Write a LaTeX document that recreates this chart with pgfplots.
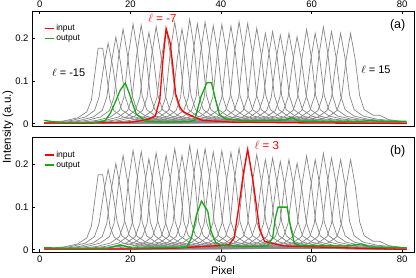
\documentclass[border=0pt]{standalone}
\usepackage{fontspec}
\setmainfont{Liberation Sans}
\usepackage{pgfplots}
\pgfplotsset{compat=1.18}
\definecolor{myred}{RGB}{255,0,0}
\definecolor{mygreen}{RGB}{20,170,20}
\definecolor{mygray}{RGB}{135,135,135}

\pgfplotsset{
 gry/.style={mygray, line width=0.7pt, forget plot},
 panel/.style={
  scale only axis, width=382pt, height=115pt,
  xmin=-1.7, xmax=82.6, ymin=-0.005, ymax=0.263,
  xtick={0,20,40,60,80}, ytick={0,0.1,0.2},
  tick align=inside, major tick length=3pt,
  ytick pos=left,
  axis line style={line width=0.9pt},
  every tick/.style={black, line width=0.8pt},
  tick label style={font=\fontsize{9.5}{11}\selectfont},
  /pgf/number format/assume math mode=true,
  legend style={draw=none, fill=none, at={(0.028,0.91)}, anchor=north west,
    font=\fontsize{8.5}{10}\selectfont, row sep=-1pt, inner sep=1pt},
  legend cell align=left,
 },
}

\newcommand{\greycurves}{%
\addplot[gry] coordinates {(1,0.002)(5.4,0.007)(8.4,0.014)(10.4,0.028)(11.4,0.055)(12.2,0.12)(12.9,0.176)(13.9,0.176)(14.7,0.12)(15.5,0.055)(16.4,0.03)(18.4,0.016)(21.4,0.01)(27.4,0.005)(81,0.002)};
\addplot[gry] coordinates {(1,0.002)(3.1,0.003)(7.1,0.008)(10.1,0.016)(12.1,0.031)(13.1,0.062)(14.1,0.132)(15.1,0.188)(16.1,0.135)(17.1,0.066)(18.1,0.033)(20.1,0.018)(23.1,0.011)(29.1,0.005)(81,0.002)};
\addplot[gry] coordinates {(1,0.002)(4.8,0.003)(8.8,0.008)(11.8,0.016)(13.8,0.031)(14.8,0.062)(15.8,0.141)(16.8,0.202)(17.8,0.145)(18.8,0.066)(19.8,0.033)(21.8,0.018)(24.8,0.011)(30.8,0.005)(81,0.002)};
\addplot[gry] coordinates {(1,0.002)(6.4,0.003)(10.4,0.008)(13.4,0.016)(15.4,0.031)(16.4,0.062)(17.4,0.155)(18.4,0.221)(19.4,0.159)(20.4,0.066)(21.4,0.033)(23.4,0.018)(26.4,0.011)(32.4,0.005)(81,0.002)};
\addplot[gry] coordinates {(1,0.002)(8.6,0.003)(12.6,0.008)(15.6,0.016)(17.6,0.031)(18.6,0.062)(19.6,0.163)(20.6,0.233)(21.6,0.168)(22.6,0.066)(23.6,0.033)(25.6,0.018)(28.6,0.011)(34.6,0.005)(81,0.002)};
\addplot[gry] coordinates {(1,0.002)(10.4,0.003)(14.4,0.008)(17.4,0.016)(19.4,0.031)(20.4,0.062)(21.4,0.161)(22.4,0.230)(23.4,0.166)(24.4,0.066)(25.4,0.033)(27.4,0.018)(30.4,0.011)(36.4,0.005)(81,0.002)};
\addplot[gry] coordinates {(1,0.002)(12.1,0.003)(16.1,0.008)(19.1,0.016)(21.1,0.031)(22.1,0.062)(23.1,0.149)(24.1,0.213)(25.1,0.153)(26.1,0.066)(27.1,0.033)(29.1,0.018)(32.1,0.011)(38.1,0.005)(81,0.002)};
\addplot[gry] coordinates {(1,0.002)(13.7,0.003)(17.7,0.008)(20.7,0.016)(22.7,0.031)(23.7,0.062)(24.7,0.159)(25.7,0.227)(26.7,0.163)(27.7,0.066)(28.7,0.033)(30.7,0.018)(33.7,0.011)(39.7,0.005)(81,0.002)};
\addplot[gry] coordinates {(1,0.002)(15.9,0.003)(19.9,0.008)(22.9,0.016)(24.9,0.031)(25.9,0.062)(26.9,0.155)(27.9,0.221)(28.9,0.159)(29.9,0.066)(30.9,0.033)(32.9,0.018)(35.9,0.011)(41.9,0.005)(81,0.002)};
\addplot[gry] coordinates {(1,0.002)(17.8,0.003)(21.8,0.008)(24.8,0.016)(26.8,0.031)(27.8,0.062)(28.8,0.166)(29.8,0.237)(30.8,0.171)(31.8,0.066)(32.8,0.033)(34.8,0.018)(37.8,0.011)(43.8,0.005)(81,0.002)};
\addplot[gry] coordinates {(1,0.002)(19.4,0.003)(23.4,0.008)(26.4,0.016)(28.4,0.031)(29.4,0.062)(30.4,0.155)(31.4,0.221)(32.4,0.159)(33.4,0.066)(34.4,0.033)(36.4,0.018)(39.4,0.011)(45.4,0.005)(81,0.002)};
\addplot[gry] coordinates {(1,0.002)(21.1,0.003)(25.1,0.008)(28.1,0.016)(30.1,0.031)(31.1,0.062)(32.1,0.171)(33.1,0.244)(34.1,0.176)(35.1,0.066)(36.1,0.033)(38.1,0.018)(41.1,0.011)(47.1,0.005)(81,0.002)};
\addplot[gry] coordinates {(1,0.002)(22.8,0.003)(26.8,0.008)(29.8,0.016)(31.8,0.031)(32.8,0.062)(33.8,0.163)(34.8,0.233)(35.8,0.168)(36.8,0.066)(37.8,0.033)(39.8,0.018)(42.8,0.011)(48.8,0.005)(81,0.002)};
\addplot[gry] coordinates {(1,0.002)(24.5,0.003)(28.5,0.008)(31.5,0.016)(33.5,0.031)(34.5,0.062)(35.5,0.166)(36.5,0.237)(37.5,0.171)(38.5,0.066)(39.5,0.033)(41.5,0.018)(44.5,0.011)(50.5,0.005)(81,0.002)};
\addplot[gry] coordinates {(1,0.002)(26.3,0.003)(30.3,0.008)(33.3,0.016)(35.3,0.031)(36.3,0.062)(37.3,0.160)(38.3,0.229)(39.3,0.165)(40.3,0.066)(41.3,0.033)(43.3,0.018)(46.3,0.011)(52.3,0.005)(81,0.002)};
\addplot[gry] coordinates {(1,0.002)(28.2,0.003)(32.2,0.008)(35.2,0.016)(37.2,0.031)(38.2,0.062)(39.2,0.162)(40.2,0.232)(41.2,0.167)(42.2,0.066)(43.2,0.033)(45.2,0.018)(48.2,0.011)(54.2,0.005)(81,0.002)};
\addplot[gry] coordinates {(1,0.002)(30.2,0.003)(34.2,0.008)(37.2,0.016)(39.2,0.031)(40.2,0.062)(41.2,0.160)(42.2,0.228)(43.2,0.164)(44.2,0.066)(45.2,0.033)(47.2,0.018)(50.2,0.011)(56.2,0.005)(81,0.002)};
\addplot[gry] coordinates {(1,0.002)(32.0,0.003)(36.0,0.008)(39.0,0.016)(41.0,0.031)(42.0,0.062)(43.0,0.167)(44.0,0.238)(45.0,0.171)(46.0,0.066)(47.0,0.033)(49.0,0.018)(52.0,0.011)(58.0,0.005)(81,0.002)};
\addplot[gry] coordinates {(1,0.002)(33.9,0.003)(37.9,0.008)(40.9,0.016)(42.9,0.031)(43.9,0.062)(44.9,0.164)(45.9,0.234)(46.9,0.168)(47.9,0.066)(48.9,0.033)(50.9,0.018)(53.9,0.011)(59.9,0.005)(81,0.002)};
\addplot[gry] coordinates {(1,0.002)(35.9,0.003)(39.9,0.008)(42.9,0.016)(44.9,0.031)(45.9,0.062)(46.9,0.156)(47.9,0.223)(48.9,0.161)(49.9,0.066)(50.9,0.033)(52.9,0.018)(55.9,0.011)(61.9,0.005)(81,0.002)};
\addplot[gry] coordinates {(1,0.002)(37.8,0.003)(41.8,0.008)(44.8,0.016)(46.8,0.031)(47.8,0.062)(48.8,0.148)(49.8,0.211)(50.8,0.152)(51.8,0.066)(52.8,0.033)(54.8,0.018)(57.8,0.011)(63.8,0.005)(81,0.002)};
\addplot[gry] coordinates {(1,0.002)(39.4,0.003)(43.4,0.008)(46.4,0.016)(48.4,0.031)(49.4,0.062)(50.4,0.151)(51.4,0.215)(52.4,0.155)(53.4,0.066)(54.4,0.033)(56.4,0.018)(59.4,0.011)(65.4,0.005)(81,0.002)};
\addplot[gry] coordinates {(1,0.002)(41.1,0.003)(45.1,0.008)(48.1,0.016)(50.1,0.031)(51.1,0.062)(52.1,0.145)(53.1,0.207)(54.1,0.149)(55.1,0.066)(56.1,0.033)(58.1,0.018)(61.1,0.011)(67.1,0.005)(81,0.002)};
\addplot[gry] coordinates {(1,0.002)(43.0,0.003)(47.0,0.008)(50.0,0.016)(52.0,0.031)(53.0,0.062)(54.0,0.148)(55.0,0.211)(56.0,0.152)(57.0,0.066)(58.0,0.033)(60.0,0.018)(63.0,0.011)(69.0,0.005)(81,0.002)};
\addplot[gry] coordinates {(1,0.002)(44.8,0.003)(48.8,0.008)(51.8,0.016)(53.8,0.031)(54.8,0.062)(55.8,0.142)(56.8,0.203)(57.8,0.146)(58.8,0.066)(59.8,0.033)(61.8,0.018)(64.8,0.011)(70.8,0.005)(81,0.002)};
\addplot[gry] coordinates {(1,0.002)(46.9,0.003)(50.9,0.008)(53.9,0.016)(55.9,0.031)(56.9,0.062)(57.9,0.154)(58.9,0.220)(59.9,0.158)(60.9,0.066)(61.9,0.033)(63.9,0.018)(66.9,0.011)(72.9,0.005)(81,0.002)};
\addplot[gry] coordinates {(1,0.002)(48.8,0.003)(52.8,0.008)(55.8,0.016)(57.8,0.031)(58.8,0.062)(59.8,0.148)(60.8,0.211)(61.8,0.152)(62.8,0.066)(63.8,0.033)(65.8,0.018)(68.8,0.011)(74.8,0.005)(81,0.002)};
\addplot[gry] coordinates {(1,0.002)(50.6,0.003)(54.6,0.008)(57.6,0.016)(59.6,0.031)(60.6,0.062)(61.6,0.158)(62.6,0.226)(63.6,0.163)(64.6,0.066)(65.6,0.033)(67.6,0.018)(70.6,0.011)(76.6,0.005)(81,0.002)};
\addplot[gry] coordinates {(1,0.002)(52.4,0.003)(56.4,0.008)(59.4,0.016)(61.4,0.031)(62.4,0.062)(63.4,0.151)(64.4,0.215)(65.4,0.155)(66.4,0.066)(67.4,0.033)(69.4,0.018)(72.4,0.011)(78.4,0.005)(81,0.002)};
\addplot[gry] coordinates {(1,0.002)(54.4,0.003)(58.4,0.008)(61.4,0.016)(63.4,0.031)(64.4,0.062)(65.4,0.148)(66.4,0.211)(67.4,0.152)(68.4,0.066)(69.4,0.033)(71.4,0.018)(74.4,0.011)(80.4,0.005)(81,0.002)};
\addplot[gry] coordinates {(1,0.002)(56.6,0.003)(60.6,0.008)(63.6,0.016)(65.6,0.031)(66.6,0.062)(67.6,0.148)(68.6,0.211)(69.6,0.152)(70.6,0.066)(71.6,0.033)(73.6,0.02)(75.0,0.02)(77,0.01)(81,0.004)};
}

\newcommand{\legendimages}{%
\addlegendimage{myred, line width=1.4pt, legend image code/.code={\draw[myred, line width=1.4pt] (0pt,0pt) -- (9pt,0pt);}}
\addlegendentry{input}
\addlegendimage{mygreen, line width=1.4pt, legend image code/.code={\draw[mygreen, line width=1.4pt] (0pt,0pt) -- (9pt,0pt);}}
\addlegendentry{output}
}

\begin{document}
\begin{tikzpicture}
\path[use as bounding box] (-32pt,-26pt) rectangle (384pt,252pt);

% top panel (a)
\begin{axis}[panel, at={(0pt,126pt)}, anchor=south west,
  xtick pos=top, xticklabel pos=top]
\legendimages
\greycurves
\addplot[myred, line width=1.3pt, forget plot] coordinates {(1,0.002)(10,0.002)(20,0.004)(23,0.008)(24.5,0.013)(25.5,0.018)(26.5,0.056)(27.2,0.149)(27.9,0.222)(28.8,0.188)(29.4,0.133)(30.0,0.07)(30.9,0.040)(31.6,0.029)(33.8,0.017)(36,0.008)(42.6,0.004)(60,0.002)(81,0.001)};
\addplot[mygreen, line width=1.3pt, forget plot] coordinates {(1,0.008)(3,0.005)(5,0.003)(12,0.003)(14.4,0.007)(15.6,0.025)(16.9,0.056)(17.8,0.079)(18.9,0.095)(19.8,0.07)(20.5,0.047)(21.3,0.023)(23.5,0.006)(28,0.004)(33,0.005)(34.2,0.009)(35.6,0.064)(36.9,0.096)(37.9,0.096)(39.0,0.048)(39.7,0.021)(41.2,0.011)(46,0.007)(54.4,0.009)(55.5,0.015)(57.3,0.006)(70.6,0.005)(72.8,0.008)(75,0.006)(81,0.006)};
\node[myred, font=\fontsize{11.5}{13}\selectfont] at (axis cs:27.1,0.245) {$\ell$ = -7};
\node[font=\fontsize{11}{13}\selectfont] at (axis cs:6.4,0.119) {$\ell$ = -15};
\node[font=\fontsize{11}{13}\selectfont] at (axis cs:74.2,0.126) {$\ell$ = 15};
\node[font=\fontsize{12.5}{14}\selectfont] at (axis cs:79.0,0.229) {(a)};
\end{axis}

% bottom panel (b)
\begin{axis}[panel, at={(0pt,0pt)}, anchor=south west, height=114.5pt,
  xtick pos=bottom, xticklabel pos=bottom,
  xlabel={Pixel}, xlabel style={font=\fontsize{11}{12}\selectfont, yshift=3pt}]
\legendimages
\greycurves
\addplot[myred, line width=1.3pt, forget plot] coordinates {(1,0.002)(20,0.002)(30,0.004)(36,0.008)(40,0.010)(41.8,0.012)(42.9,0.028)(44.0,0.105)(45.0,0.183)(45.9,0.235)(47.0,0.167)(47.8,0.105)(48.5,0.051)(49.6,0.020)(51.8,0.014)(54.0,0.009)(66.5,0.005)(81,0.001)};
\addplot[mygreen, line width=1.3pt, forget plot] coordinates {(1,0.005)(5,0.004)(15,0.004)(16.5,0.008)(17.7,0.011)(19,0.008)(20.6,0.004)(32.4,0.006)(33.5,0.028)(34.6,0.082)(35.7,0.114)(37.1,0.090)(37.8,0.044)(38.9,0.016)(40.0,0.011)(45,0.008)(50.3,0.009)(51.4,0.028)(52.0,0.074)(52.6,0.100)(54.6,0.100)(55.4,0.051)(56.2,0.016)(57.3,0.010)(67.9,0.009)(70.9,0.014)(73.1,0.006)(81,0.005)};
\node[myred, font=\fontsize{11.5}{13}\selectfont] at (axis cs:50.1,0.245) {$\ell$ = 3};
\node[font=\fontsize{12.5}{14}\selectfont] at (axis cs:79.0,0.231) {(b)};
\end{axis}

\node[rotate=90, font=\fontsize{11.5}{13}\selectfont] at (-24pt,125pt) {Intensity (a.u.)};
\end{tikzpicture}
\end{document}
